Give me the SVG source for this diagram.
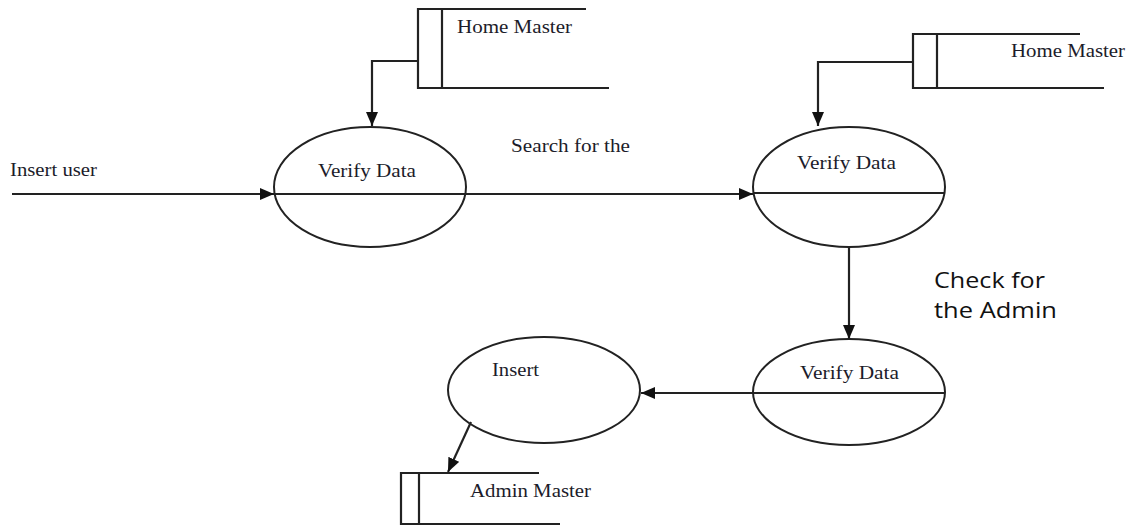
<svg xmlns="http://www.w3.org/2000/svg" width="1132" height="527" viewBox="0 0 1132 527">
<style>
.ln{fill:none;stroke:#222;stroke-width:2.2}
.el{fill:#fff;stroke:#222;stroke-width:2}
.t{font-family:"Liberation Serif","Times New Roman",serif;font-size:18.5px;fill:#1c1c2a}
.s{font-family:"Open Sans","Liberation Sans",sans-serif;font-size:21px;fill:#111}
</style>
<defs>
<marker id="ah" viewBox="0 0 14 12" refX="14" refY="6" markerWidth="14" markerHeight="12" markerUnits="userSpaceOnUse" orient="auto">
<path d="M0,0 L14,6 L0,12 Z" fill="#111"/>
</marker>
</defs>
<g id="store1">
<path class="ln" d="M586,9 H418 V88 H609 M442,9 V88"/>
<text class="t" x="457" y="33" textLength="115" lengthAdjust="spacingAndGlyphs">Home Master</text>
</g>
<g id="store2">
<path class="ln" d="M1080,34 H913 V88 H1104 M937,34 V88"/>
<text class="t" x="1011" y="57" textLength="114" lengthAdjust="spacingAndGlyphs">Home Master</text>
</g>
<g id="store3">
<path class="ln" d="M539,473 H401 V524 H560 M419,473 V524"/>
<text class="t" x="470" y="497" textLength="121" lengthAdjust="spacingAndGlyphs">Admin Master</text>
</g>
<g id="p1">
<ellipse class="el" cx="370" cy="187" rx="96" ry="60"/>
<line class="ln" x1="274" y1="194" x2="466" y2="194"/>
<text class="t" x="318" y="177" textLength="98" lengthAdjust="spacingAndGlyphs">Verify Data</text>
</g>
<g id="p2">
<ellipse class="el" cx="849" cy="187" rx="96" ry="60"/>
<line class="ln" x1="753" y1="193" x2="945" y2="193"/>
<text class="t" x="797" y="169" textLength="99" lengthAdjust="spacingAndGlyphs">Verify Data</text>
</g>
<g id="p3">
<ellipse class="el" cx="849" cy="392" rx="96" ry="53"/>
<line class="ln" x1="753" y1="393" x2="945" y2="393"/>
<text class="t" x="800" y="379" textLength="99" lengthAdjust="spacingAndGlyphs">Verify Data</text>
</g>
<g id="p4">
<ellipse class="el" cx="544" cy="390" rx="96" ry="53"/>
<text class="t" x="492" y="376" textLength="47" lengthAdjust="spacingAndGlyphs">Insert</text>
</g>
<g id="connectors">
<path class="ln" d="M418,61 H372 V126" marker-end="url(#ah)"/>
<path class="ln" d="M913,62 H818 V126" marker-end="url(#ah)"/>
<path class="ln" d="M12,194 H274" marker-end="url(#ah)"/>
<path class="ln" d="M466,194 H753" marker-end="url(#ah)"/>
<path class="ln" d="M849,247 V339" marker-end="url(#ah)"/>
<path class="ln" d="M753,393 H641" marker-end="url(#ah)"/>
<path class="ln" d="M471,422 L448,472" marker-end="url(#ah)"/>
</g>
<g id="labels">
<text class="t" x="10" y="176" textLength="87" lengthAdjust="spacingAndGlyphs">Insert user</text>
<text class="t" x="511" y="152" textLength="119" lengthAdjust="spacingAndGlyphs">Search for the</text>
<text class="s" x="934" y="288" textLength="111" lengthAdjust="spacingAndGlyphs">Check for</text>
<text class="s" x="934" y="318" textLength="123" lengthAdjust="spacingAndGlyphs">the Admin</text>
</g>
</svg>
